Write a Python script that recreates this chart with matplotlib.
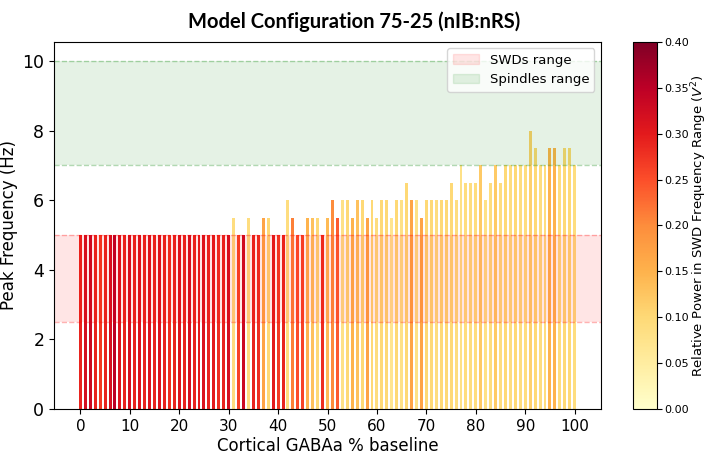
import numpy as np
import matplotlib
matplotlib.use('Agg')
import matplotlib.pyplot as plt
from matplotlib.patches import Patch

gaba = np.arange(0, 101)

peak_freq = [5.0] * 31 + [
    5.5, 5, 5, 5.5, 5, 5, 5.5, 5.5, 5, 5,            # 31-40
    5, 6, 5.5, 5, 5, 5.5, 5.5, 5.5, 5, 5.5,          # 41-50
    6, 5.5, 6, 6, 5.5, 6, 6, 5.5, 6, 5.5,            # 51-60
    6, 6, 5.5, 6, 6, 6.5, 6, 6, 5.5, 6,              # 61-70
    6, 6, 6, 6, 6.5, 6, 7, 6.5, 6.5, 6.5,            # 71-80
    7, 6, 6.5, 7, 6.5, 7, 7, 7, 7, 7,                # 81-90
    8, 7.5, 7, 7, 7.5, 7.5, 7, 7.5, 7.5, 7,          # 91-100
]

rel_power = [
    0.29, 0.32, 0.33, 0.29, 0.27, 0.29, 0.32, 0.35, 0.31, 0.29,   # 0-9
    0.32, 0.29, 0.31, 0.29, 0.31, 0.29, 0.31, 0.29, 0.28, 0.29,   # 10-19
    0.31, 0.29, 0.32, 0.29, 0.30, 0.31, 0.29, 0.30, 0.28, 0.29,   # 20-29
    0.32, 0.09, 0.26, 0.33, 0.09, 0.29, 0.28, 0.17, 0.10, 0.30,   # 30-39
    0.27, 0.29, 0.09, 0.21, 0.25, 0.26, 0.15, 0.13, 0.10, 0.28,   # 40-49
    0.14, 0.20, 0.24, 0.08, 0.10, 0.15, 0.13, 0.10, 0.17, 0.10,   # 50-59
    0.09, 0.10, 0.10, 0.07, 0.10, 0.08, 0.10, 0.17, 0.08, 0.17,   # 60-69
    0.10, 0.10, 0.09, 0.10, 0.10, 0.10, 0.09, 0.08, 0.09, 0.09,   # 70-79
    0.09, 0.12, 0.08, 0.09, 0.12, 0.09, 0.10, 0.09, 0.10, 0.09,   # 80-89
    0.09, 0.11, 0.10, 0.09, 0.09, 0.15, 0.15, 0.09, 0.10, 0.10,   # 90-99
    0.09,                                                           # 100
]

swd_range = (2.5, 5)
spindle_range = (7, 10)

cmap = plt.get_cmap('YlOrRd')
norm = matplotlib.colors.Normalize(vmin=0, vmax=0.4)

fig = plt.figure(figsize=(7.08, 4.54), dpi=100)
ax = fig.add_axes([0.0763, 0.099, 0.7726, 0.809])
cax = fig.add_axes([0.894, 0.099, 0.034, 0.809])

ax.bar(gaba, peak_freq, width=0.6, color=cmap(norm(np.array(rel_power))))

# frequency bands
ax.axhspan(*swd_range, color='red', alpha=0.1, lw=0)
ax.axhspan(*spindle_range, color='green', alpha=0.1, lw=0)
for y in swd_range:
    ax.axhline(y, color='red', ls='--', lw=1, alpha=0.3)
for y in spindle_range:
    ax.axhline(y, color='green', ls='--', lw=1, alpha=0.3)

ax.set_ylim(0, 10.55)
ax.set_xticks(range(0, 101, 10))
ax.set_yticks(range(0, 11, 2))
ax.tick_params(axis='x', labelsize=11)
ax.tick_params(axis='y', labelsize=12.5)
ax.set_xlabel('Cortical GABAa % baseline', fontsize=12, labelpad=2)
ax.set_ylabel('Peak Frequency (Hz)', fontsize=12, labelpad=3)

handles = [Patch(color='red', alpha=0.1, label='SWDs range'),
           Patch(color='green', alpha=0.1, label='Spindles range')]
ax.legend(handles=handles, loc='upper right', fontsize=9.5)

sm = matplotlib.cm.ScalarMappable(norm=norm, cmap=cmap)
cb = fig.colorbar(sm, cax=cax, ticks=np.arange(0, 0.41, 0.05))
cb.ax.tick_params(labelsize=8, pad=2)
cb.set_label('Relative Power in SWD Frequency Range ($V^2$)', fontsize=9.5,
             labelpad=0)

fig.suptitle('Model Configuration 75-25 (nIB:nRS)', fontsize=14.5,
             fontweight='bold', family='Lato', y=0.975)

fig.savefig('out.png', dpi=100)
